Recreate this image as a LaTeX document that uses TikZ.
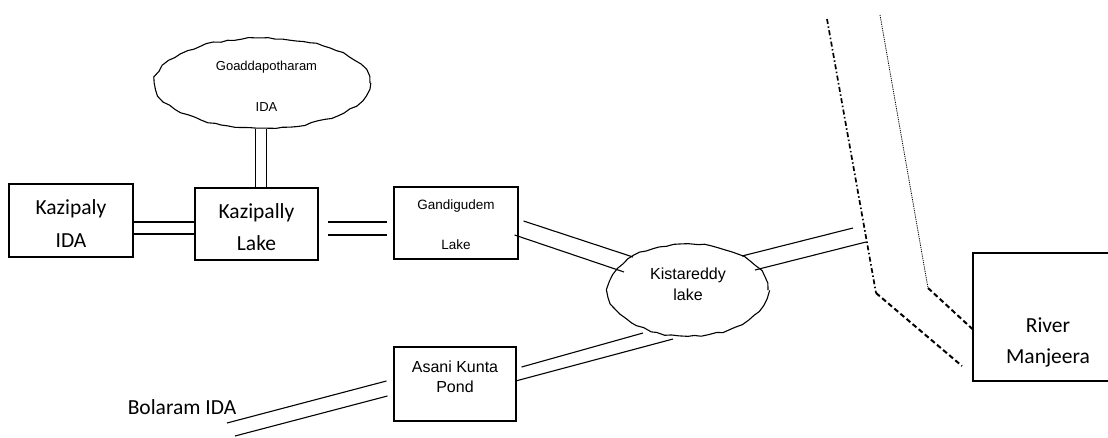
\documentclass[tikz,border=0pt]{standalone}
\usepackage{fontspec}
\setmainfont{Carlito}
\newfontfamily\arialf{Liberation Sans}
\usetikzlibrary{calc,shapes.geometric,decorations.pathmorphing}
\begin{document}
\begin{tikzpicture}[x=1pt,y=-1pt,
  box/.style={draw, line width=1.2pt, inner sep=0pt},
  cloudy/.style={draw, ellipse, inner sep=0pt, line width=1.1pt,
    decorate, decoration={random steps, segment length=7pt, amplitude=1pt}},
  pipe/.style={line width=1.1pt},
  cal/.style={align=center, inner sep=0pt, font=\fontsize{21.5}{33}\selectfont},
  ari/.style={align=center, inner sep=0pt, font=\arialf\fontsize{#1}{#1}\selectfont},
  dashdotline/.style={line width=1.7pt, dash pattern=on 5pt off 2.5pt on 1.5pt off 2.5pt},
  dotline/.style={line width=0.8pt, dash pattern=on 1.2pt off 1pt},
  bankdash/.style={line width=2pt, dash pattern=on 5pt off 3pt}
]
\pgfmathsetseed{7}
\useasboundingbox (0,0) rectangle (1108,437);

% nodes
\node[cloudy, minimum width=215pt, minimum height=90pt,
  label={[ari=13, xshift=4pt, yshift=-3.5pt, font=\arialf\fontsize{13}{41}\selectfont]center:Goaddapotharam\\IDA}]
  (gda) at (262.5,83) {};
\node[box, minimum width=124pt, minimum height=73pt,
  label={[cal, yshift=-3pt]center:Kazipaly\\IDA}] (kida) at (71,220.5) {};
\node[box, minimum width=123pt, minimum height=72pt,
  label={[cal, yshift=-3pt, font=\fontsize{21.5}{32}\selectfont]center:Kazipally\\Lake}] (klake) at (256.5,224) {};
\node[box, minimum width=124pt, minimum height=72pt,
  label={[ari=13.5, yshift=-2pt, font=\arialf\fontsize{13.5}{40}\selectfont]center:Gandigudem\\Lake}] (gandi) at (456,223) {};
\node[cloudy, minimum width=160pt, minimum height=92pt,
  label={[ari=16, yshift=5.5pt, font=\arialf\fontsize{16}{21}\selectfont]center:Kistareddy\\lake}] (kist) at (688,290) {};
\node[box, minimum width=122pt, minimum height=74pt,
  label={[ari=16, yshift=7pt, font=\arialf\fontsize{16}{20}\selectfont]center:Asani Kunta\\Pond}] (asani) at (455,384) {};
\node[box, minimum width=150pt, minimum height=128pt,
  label={[cal, yshift=-25pt, font=\fontsize{21.5}{31}\selectfont]center:River\\Manjeera}] (river) at (1048,317) {};
\node[cal] (bol) at (182,407) {Bolaram IDA};

% river banks
\coordinate (b1a) at (827,19);
\coordinate (b1b) at (876,293);
\coordinate (b1c) at (962,366);
\coordinate (b2a) at (880,15);
\coordinate (b2b) at (928,288);
\coordinate (r1) at (853,228);
\coordinate (r2) at (866,242);
\draw[dashdotline] (b1a) -- (b1b);
\draw[bankdash] (b1b) -- (b1c);
\draw[dotline] (b2a) -- (b2b);
\draw[bankdash] (b2b) -- ($(river.west)+(0,12)$);

% pipes
\draw[pipe] ([xshift=-7pt]gda.south) -- ([xshift=-7pt]gda.south |- klake.north);
\draw[pipe] ([xshift=4pt]gda.south) -- ([xshift=4pt]gda.south |- klake.north);

\draw[pipe] ($(kida.east)+(0,1.5)$) -- ($(klake.west)+(0,-2)$);
\draw[pipe] ($(kida.east)+(0,13.5)$) -- ($(klake.west)+(0,10)$);

\draw[pipe] ($(klake.east)+(9,-2)$) -- ($(gandi.west)+(-6,-1)$);
\draw[pipe] ($(klake.east)+(9,11)$) -- ($(gandi.west)+(-6,12)$);

\draw[pipe] ($(gandi.east)+(5,-2)$) -- ($(kist.center)+(-55,-33)$);
\draw[pipe] ($(gandi.east)+(-4,12)$) -- ($(kist.center)+(-64,-18)$);

\draw[pipe] ($(kist.center)+(54,-34)$) -- (r1);
\draw[pipe] ($(kist.center)+(67,-20)$) -- (r2);

\draw[pipe] ($(kist.center)+(-45,43)$) -- ($(asani.east)+(5,-17)$);
\draw[pipe] ($(kist.center)+(-15,49)$) -- ($(asani.east)+(-1,-3)$);

\draw[pipe] ($(bol.center)+(45,16)$) -- ($(asani.west)+(-7,-3)$);
\draw[pipe] ($(bol.center)+(53,29)$) -- ($(asani.west)+(-6,12)$);
\end{tikzpicture}
\end{document}
